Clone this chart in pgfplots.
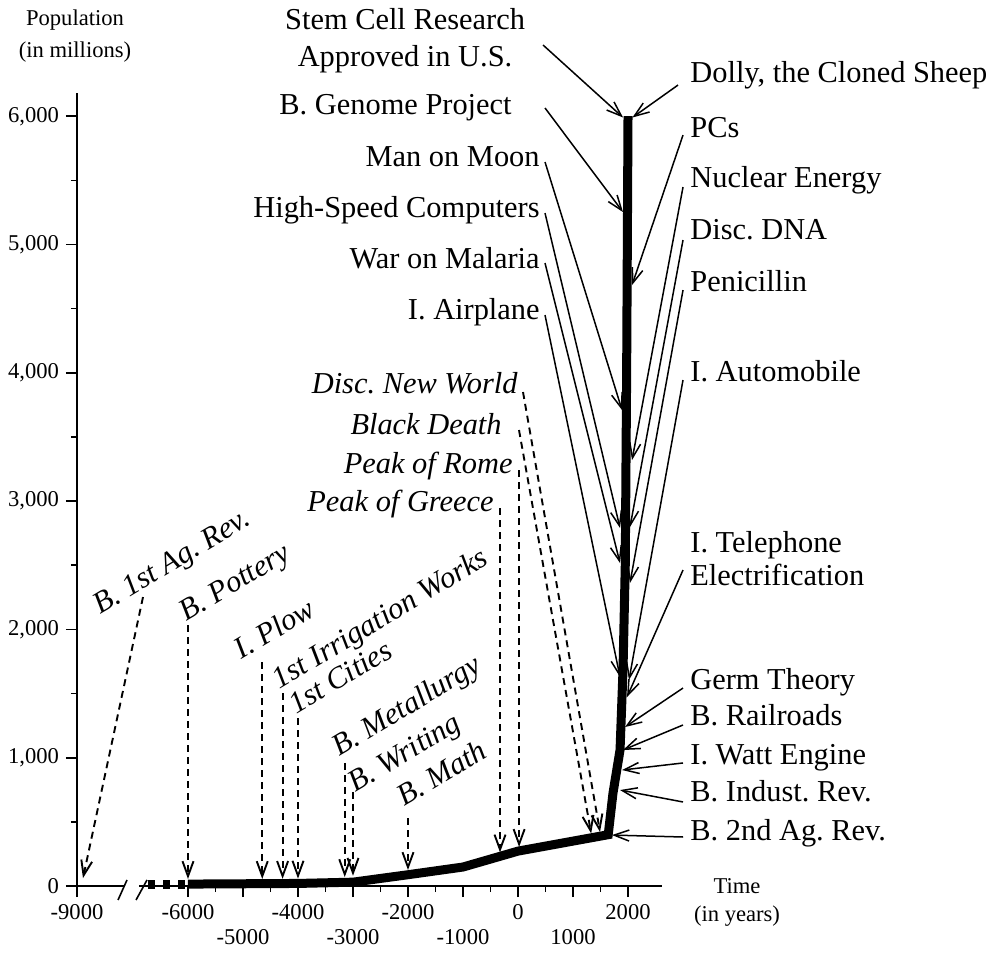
\documentclass[border=0pt]{standalone}
\usepackage{fontspec}
\setmainfont{Liberation Serif}
\usepackage{pgfplots}
\pgfplotsset{compat=1.18}
\usetikzlibrary{arrows.meta}
\frenchspacing

\begin{document}
\begin{tikzpicture}[
  lab/.style={font=\fontsize{15.2}{18.5}\selectfont, inner sep=0pt},
  ilab/.style={inner sep=0pt, font=\fontsize{15.2}{18.5}\selectfont\itshape},
  rlab/.style={ilab, rotate=31, anchor=base west},
  arr/.style={line width=0.75pt, -{Straight Barb[length=7.5pt,width=5.5pt]}},
  darr/.style={line width=0.95pt, dash pattern=on 3.5pt off 2.5pt, -{Straight Barb[length=7.5pt,width=5.5pt]}},
]
\begin{axis}[
  scale only axis, width=292.5pt, height=396.5pt,
  xmin=-8018, xmax=2618, ymin=0, ymax=6181,
  axis x line*=bottom, axis y line*=left,
  axis line style={line width=0.8pt},
  tick align=outside, tick style={black, line width=0.8pt},
  major tick length=5.5pt, minor tick length=3pt,
  xtick={-8018,-6000,-4000,-2000,0,2000},
  xticklabels={-9000,-6000,-4000,-2000,0,2000},
  extra x ticks={-5000,-3000,-1000,1000},
  extra x tick labels={-5000,-3000,-1000,1000},
  extra x tick style={grid=none, tick label style={yshift=-12.5pt}},
  minor xtick={-5500,-4500,-3500,-2500,-1500,-500,500,1500},
  ytick={0,1000,...,6000},
  yticklabels={0,{1,000},{2,000},{3,000},{4,000},{5,000},{6,000}},
  minor ytick={500,1500,...,5500},
  ticklabel style={font=\fontsize{11.3}{13}\selectfont},
  clip=false,
]
\coordinate (O) at (-8018,0);

% axis break
\fill[white] (-7164,-40) rectangle (-6890,40);
\draw[line width=0.8pt] (-7272,-109) -- (-7109,47);
\draw[line width=0.8pt] (-6945,-109) -- (-6745,47);

% population curve
\addplot[line width=4.5pt, dash pattern=on 3.5pt off 4pt] coordinates {(-6727,15) (-6000,15)};
\addplot[line width=4.5pt] coordinates {
  (-6000,15) (-4000,20) (-3000,30) (-2000,88) (-1000,148) (0,272)
  (1640,400) (1727,725) (1855,1060) (1909,1684) (1950,2500)
  (1975,4000) (2000,6000)
};

% axis titles
\node[align=center, font=\fontsize{11.3}{16}\selectfont] at (-8054,6625) {Population\\(in millions)};
\node[align=center, font=\fontsize{11.3}{14}\selectfont] at (3982,-125) {Time\\(in years)};

% right-hand labels
\node[lab, anchor=mid west] at (3127,6298) {Dolly, the Cloned Sheep};
\node[lab, anchor=mid west] at (3127,5869) {PCs};
\node[lab, anchor=mid west] at (3127,5479) {Nuclear Energy};
\node[lab, anchor=mid west] at (3127,5074) {Disc. DNA};
\node[lab, anchor=mid west] at (3127,4669) {Penicillin};
\node[lab, anchor=mid west] at (3127,3967) {I. Automobile};
\node[lab, anchor=mid west] at (3127,2634) {I. Telephone};
\node[lab, anchor=mid west] at (3127,2377) {Electrification};
\node[lab, anchor=mid west] at (3127,1567) {Germ Theory};
\node[lab, anchor=mid west] at (3127,1286) {B. Railroads};
\node[lab, anchor=mid west] at (3127,982) {I. Watt Engine};
\node[lab, anchor=mid west] at (3127,694) {B. Indust. Rev.};
\node[lab, anchor=mid west] at (3127,390) {B. 2nd Ag. Rev.};

\draw[arr] (2909,6243) -- (2080,5990);
\draw[arr] (3000,5853) -- (2073,4684);
\draw[arr] (3000,5448) -- (2073,3320);
\draw[arr] (3000,5035) -- (2036,2798);
\draw[arr] (3000,4645) -- (2036,2362);
\draw[arr] (3000,3944) -- (2018,1606);
\draw[arr] (3000,2463) -- (1982,1473);
\draw[arr] (3000,1543) -- (1945,1239);
\draw[arr] (3000,1255) -- (1909,1060);
\draw[arr] (3000,959) -- (1891,904);
\draw[arr] (3000,655) -- (1855,748);
\draw[arr] (3000,382) -- (1709,397);

% left-hand labels (modern)
\node[lab, align=center] at (-2054,6590) {Stem Cell Research\\Approved in U.S.};
\node[lab, anchor=mid east] at (-109,6050) {B. Genome Project};
\node[lab, anchor=mid east] at (400,5645) {Man on Moon};
\node[lab, anchor=mid east] at (400,5250) {High-Speed Computers};
\node[lab, anchor=mid east] at (400,4850) {War on Malaria};
\node[lab, anchor=mid east] at (400,4455) {I. Airplane};

\draw[arr] (455,6555) -- (1910,5990);
\draw[arr] (491,6064) -- (1909,5253);
\draw[arr] (491,5643) -- (1891,3710);
\draw[arr] (491,5245) -- (1855,2790);
\draw[arr] (491,4856) -- (1855,2517);
\draw[arr] (491,4450) -- (1855,1629);

% italic labels (ancient)
\node[ilab, anchor=mid east] at (0,3875) {Disc. New World};
\node[ilab, anchor=mid east] at (-291,3557) {Black Death};
\node[ilab, anchor=mid east] at (-91,3253) {Peak of Rome};
\node[ilab, anchor=mid east] at (-436,2957) {Peak of Greece};

\draw[darr] (91,3850) -- (1491,421);
\draw[darr] (18,3554) -- (1330,410);
\draw[darr] (20,3242) -- (20,305);
\draw[darr] (-327,2946) -- (-327,262);

% rotated labels
\node[rlab] at (-7600,2112) {B. 1st Ag. Rev.};
\node[rlab] at (-6030,2058) {B. Pottery};
\node[rlab] at (-5030,1761) {I. Plow};
\node[rlab] at (-4340,1528) {1st Irrigation Works};
\node[rlab] at (-4030,1333) {1st Cities};
\node[rlab] at (-3250,1005) {B. Metallurgy};
\node[rlab] at (-2960,725) {B. Writing};
\node[rlab] at (-2070,616) {B. Math};

\draw[darr] (-6818,2252) -- (-7909,62);
\draw[darr] (-6000,2034) -- (-6000,55);
\draw[darr] (-4650,1746) -- (-4650,55);
\draw[darr] (-4280,1504) -- (-4280,56);
\draw[darr] (-4000,1309) -- (-4000,58);
\draw[darr] (-3150,959) -- (-3150,70);
\draw[darr] (-3000,733) -- (-3000,80);
\draw[darr] (-2000,530) -- (-2000,125);
\end{axis}
\path (O) ++(-38.5pt,-34.5pt) rectangle ++(497pt,477.5pt);
\end{tikzpicture}
\end{document}
